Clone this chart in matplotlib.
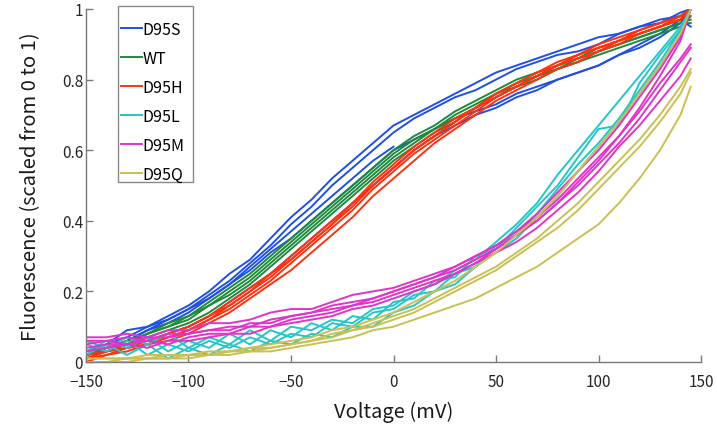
import numpy as np
from matplotlib import pyplot as plt
from matplotlib.patches import Rectangle

plt.rcParams['font.family'] = ['Noto Sans CJK KR', 'DejaVu Sans']

# voltage steps (mV)
voltage = [-150, -140, -130, -120, -110, -100, -90, -80, -70, -60, -50, -40, -30, -20, -10,
           0, 10, 20, 30, 40, 50, 60, 70, 80, 90, 100, 110, 120, 130, 140, 145]

labels = ['D95S', 'WT', 'D95H', 'D95L', 'D95M', 'D95Q']
colors = ['#1f4fe3', '#1e8a3c', '#ff3210', '#25c6c8', '#e034c8', '#c9c052']

# scaled fluorescence traces per construct
d95s = [
    [0.02, 0.05, 0.09, 0.10, 0.13, 0.16, 0.20, 0.25, 0.29, 0.35, 0.41, 0.46, 0.52, 0.57, 0.62,
     0.67, 0.70, 0.73, 0.76, 0.79, 0.82, 0.84, 0.86, 0.88, 0.90, 0.92, 0.93, 0.95, 0.97, 0.98, 1.0],
    [0.03, 0.05, 0.07, 0.10, 0.12, 0.15, 0.19, 0.23, 0.28, 0.33, 0.39, 0.44, 0.50, 0.55, 0.60,
     0.65, 0.69, 0.72, 0.75, 0.77, 0.80, 0.83, 0.85, 0.87, 0.88, 0.90, 0.93, 0.95, 0.96, 0.99, 1.0],
    [0.02, 0.04, 0.06, 0.09, 0.12, 0.15, 0.18, 0.22, 0.27, 0.32, 0.37, 0.42, 0.47, 0.52, 0.57,
     0.61],
    [0.02, 0.04, 0.06, 0.09, 0.11, 0.14, 0.18, 0.22, 0.26, 0.31, 0.35, 0.40, 0.45, 0.50, 0.55,
     0.60, 0.63, 0.66, 0.69, 0.71, 0.73, 0.76, 0.78, 0.80, 0.82, 0.84, 0.87, 0.89, 0.92, 0.96, 1.0],
    [0.02, 0.03, 0.05, 0.06, 0.08, 0.10, 0.13, 0.17, 0.21, 0.25, 0.30, 0.35, 0.40, 0.45, 0.50,
     0.55, 0.60, 0.64, 0.67, 0.70, 0.72, 0.75, 0.77, 0.80, 0.82, 0.84, 0.87, 0.90, 0.93, 0.97, 0.95],
]
wt = [
    [0.02, 0.03, 0.05, 0.08, 0.10, 0.12, 0.16, 0.20, 0.24, 0.29, 0.34, 0.39, 0.44, 0.49, 0.54,
     0.59, 0.63, 0.66, 0.70, 0.73, 0.76, 0.79, 0.81, 0.83, 0.85, 0.88, 0.90, 0.92, 0.94, 0.96, 0.97],
    [0.03, 0.04, 0.06, 0.08, 0.11, 0.13, 0.17, 0.21, 0.25, 0.30, 0.35, 0.40, 0.45, 0.50, 0.55,
     0.60, 0.64, 0.67, 0.71, 0.74, 0.77, 0.80, 0.82, 0.84, 0.86, 0.89, 0.91, 0.93, 0.95, 0.97, 1.0],
    [0.01, 0.03, 0.05, 0.07, 0.09, 0.11, 0.14, 0.18, 0.22, 0.27, 0.32, 0.37, 0.42, 0.47, 0.52,
     0.57, 0.61, 0.65, 0.68, 0.72, 0.75, 0.78, 0.80, 0.83, 0.85, 0.87, 0.89, 0.91, 0.93, 0.95, 0.98],
    [0.02, 0.04, 0.05, 0.08, 0.10, 0.13, 0.16, 0.19, 0.23, 0.28, 0.33, 0.38, 0.43, 0.48, 0.53,
     0.58, 0.62, 0.66, 0.69, 0.72, 0.76, 0.78, 0.81, 0.83, 0.86, 0.88, 0.90, 0.92, 0.94, 0.96, 0.96],
]
d95h = [
    [0.01, 0.03, 0.04, 0.06, 0.08, 0.10, 0.13, 0.17, 0.21, 0.25, 0.30, 0.35, 0.40, 0.45, 0.51,
     0.56, 0.61, 0.65, 0.69, 0.72, 0.76, 0.79, 0.82, 0.84, 0.87, 0.89, 0.91, 0.93, 0.95, 0.98, 1.0],
    [0.02, 0.03, 0.04, 0.05, 0.07, 0.09, 0.12, 0.15, 0.19, 0.23, 0.28, 0.33, 0.38, 0.43, 0.49,
     0.54, 0.59, 0.63, 0.67, 0.71, 0.75, 0.78, 0.81, 0.84, 0.86, 0.88, 0.91, 0.93, 0.95, 0.97, 1.0],
    [0.00, 0.02, 0.03, 0.05, 0.06, 0.08, 0.11, 0.14, 0.18, 0.22, 0.26, 0.31, 0.36, 0.41, 0.47,
     0.52, 0.57, 0.62, 0.66, 0.70, 0.74, 0.77, 0.80, 0.83, 0.85, 0.88, 0.90, 0.93, 0.95, 0.97, 1.0],
    [0.01, 0.02, 0.04, 0.05, 0.07, 0.09, 0.12, 0.16, 0.20, 0.24, 0.29, 0.34, 0.39, 0.44, 0.50,
     0.55, 0.60, 0.64, 0.68, 0.72, 0.75, 0.78, 0.81, 0.84, 0.87, 0.89, 0.91, 0.94, 0.96, 0.98, 1.0],
    [0.02, 0.03, 0.05, 0.06, 0.08, 0.10, 0.13, 0.16, 0.20, 0.25, 0.29, 0.34, 0.39, 0.45, 0.50,
     0.55, 0.60, 0.64, 0.68, 0.72, 0.76, 0.79, 0.82, 0.85, 0.87, 0.90, 0.92, 0.94, 0.96, 0.98, 1.0],
]
d95l = [
    [0.05, 0.03, 0.06, 0.02, 0.05, 0.03, 0.06, 0.04, 0.07, 0.05, 0.08, 0.07, 0.11, 0.10, 0.14,
     0.15, 0.19, 0.20, 0.25, 0.27, 0.33, 0.36, 0.42, 0.49, 0.56, 0.62, 0.69, 0.77, 0.85, 0.94, 1.0],
    [0.03, 0.06, 0.04, 0.07, 0.03, 0.06, 0.04, 0.08, 0.05, 0.09, 0.07, 0.11, 0.09, 0.13, 0.12,
     0.17, 0.18, 0.23, 0.24, 0.30, 0.32, 0.38, 0.44, 0.50, 0.58, 0.66, 0.67, 0.79, 0.87, 0.94, 1.0],
    [0.06, 0.04, 0.07, 0.05, 0.08, 0.04, 0.07, 0.05, 0.09, 0.06, 0.10, 0.09, 0.12, 0.11, 0.15,
     0.16, 0.20, 0.22, 0.26, 0.29, 0.34, 0.39, 0.45, 0.53, 0.60, 0.67, 0.74, 0.81, 0.88, 0.95, 1.0],
    [0.02, 0.05, 0.02, 0.05, 0.01, 0.04, 0.02, 0.05, 0.03, 0.06, 0.05, 0.08, 0.07, 0.10, 0.10,
     0.14, 0.16, 0.20, 0.22, 0.27, 0.31, 0.35, 0.41, 0.47, 0.54, 0.61, 0.68, 0.76, 0.84, 0.92, 1.0],
]
d95m = [
    [0.07, 0.07, 0.08, 0.07, 0.09, 0.09, 0.11, 0.11, 0.12, 0.14, 0.15, 0.15, 0.17, 0.19, 0.20,
     0.21, 0.23, 0.25, 0.27, 0.30, 0.33, 0.37, 0.41, 0.46, 0.52, 0.58, 0.64, 0.71, 0.79, 0.86, 0.90],
    [0.05, 0.06, 0.05, 0.07, 0.07, 0.08, 0.09, 0.10, 0.10, 0.12, 0.13, 0.14, 0.16, 0.17, 0.18,
     0.20, 0.22, 0.24, 0.27, 0.30, 0.33, 0.37, 0.42, 0.48, 0.54, 0.60, 0.67, 0.75, 0.83, 0.92, 1.0],
    [0.04, 0.05, 0.05, 0.06, 0.05, 0.07, 0.08, 0.08, 0.10, 0.10, 0.12, 0.13, 0.14, 0.16, 0.17,
     0.19, 0.21, 0.23, 0.25, 0.28, 0.31, 0.34, 0.38, 0.43, 0.48, 0.54, 0.61, 0.67, 0.74, 0.81, 0.86],
    [0.03, 0.04, 0.05, 0.04, 0.06, 0.06, 0.07, 0.08, 0.08, 0.10, 0.11, 0.12, 0.13, 0.15, 0.16,
     0.18, 0.20, 0.22, 0.25, 0.28, 0.32, 0.36, 0.40, 0.45, 0.51, 0.57, 0.64, 0.72, 0.81, 0.91, 1.0],
    [0.06, 0.06, 0.07, 0.06, 0.08, 0.08, 0.09, 0.09, 0.11, 0.11, 0.13, 0.14, 0.15, 0.16, 0.18,
     0.20, 0.22, 0.24, 0.26, 0.29, 0.32, 0.36, 0.40, 0.45, 0.50, 0.56, 0.62, 0.69, 0.77, 0.85, 0.89],
]
d95q = [
    [0.01, 0.01, 0.01, 0.02, 0.02, 0.02, 0.03, 0.03, 0.04, 0.05, 0.06, 0.07, 0.09, 0.10, 0.12,
     0.14, 0.17, 0.20, 0.23, 0.27, 0.31, 0.36, 0.41, 0.47, 0.54, 0.61, 0.68, 0.76, 0.84, 0.93, 1.0],
    [0.00, 0.00, 0.01, 0.01, 0.01, 0.02, 0.02, 0.03, 0.03, 0.04, 0.05, 0.06, 0.08, 0.09, 0.11,
     0.13, 0.15, 0.18, 0.21, 0.24, 0.27, 0.31, 0.35, 0.40, 0.45, 0.51, 0.57, 0.63, 0.70, 0.78, 0.83],
    [0.01, 0.01, 0.01, 0.01, 0.02, 0.02, 0.02, 0.03, 0.04, 0.04, 0.05, 0.06, 0.07, 0.09, 0.10,
     0.12, 0.14, 0.17, 0.20, 0.23, 0.26, 0.30, 0.34, 0.38, 0.43, 0.49, 0.55, 0.61, 0.68, 0.76, 0.82],
    [0.00, 0.00, 0.00, 0.01, 0.01, 0.01, 0.02, 0.02, 0.03, 0.03, 0.04, 0.05, 0.06, 0.07, 0.09,
     0.10, 0.12, 0.14, 0.16, 0.18, 0.21, 0.24, 0.27, 0.31, 0.35, 0.39, 0.45, 0.52, 0.60, 0.70, 0.78],
]

groups = [d95s, wt, d95h, d95l, d95m, d95q]

W, H = 717, 439
fig = plt.figure(figsize=(W / 100, H / 100), dpi=100)
ax = fig.add_axes([86 / W, 76 / H, 615 / W, 353 / H])

for traces, label, color in zip(groups, labels, colors):
    for k, trace in enumerate(traces):
        ax.plot(voltage[:len(trace)], trace, color=color, lw=1.4,
                label=label if k == 0 else None)

ax.set_xlim(-150, 150)
ax.set_ylim(0, 1)
ax.set_xticks(np.arange(-150, 151, 50))
ax.set_yticks([0, 0.2, 0.4, 0.6, 0.8, 1])
ax.set_yticklabels(['0', '0.2', '0.4', '0.6', '0.8', '1'])

axis_grey = '#7a7a7a'
for side in ['top', 'right']:
    ax.spines[side].set_visible(False)
for side in ['left', 'bottom']:
    ax.spines[side].set_color(axis_grey)
    ax.spines[side].set_linewidth(1.0)
ax.tick_params(axis='both', direction='in', length=5, width=1.0, color=axis_grey,
               labelsize=11, labelcolor='#262626')
ax.tick_params(axis='x', pad=8)
ax.tick_params(axis='y', pad=2)

ax.set_xlabel('Voltage (mV)', fontsize=14.5, color='#1a1a1a', labelpad=8)
ax.set_ylabel('Fluorescence (scaled from 0 to 1)', fontsize=14.5, color='#1a1a1a', labelpad=15)

# legend box drawn separately so its padding can be set per side
box = Rectangle((118 / W, 1 - 183 / H), 75 / W, 176 / H, transform=fig.transFigure,
                facecolor='white', edgecolor='#8a8a8a', lw=1.0, zorder=4, clip_on=False)
ax.add_patch(box)
leg = ax.legend(loc='upper left', bbox_to_anchor=(121 / W, 1 - 22 / H),
                bbox_transform=fig.transFigure, borderaxespad=0, borderpad=0,
                frameon=False, fontsize=11.5, handlelength=1.3, handletextpad=0.05,
                labelspacing=0.75)
leg.set_zorder(5)

fig.savefig('out.png', dpi=100)
